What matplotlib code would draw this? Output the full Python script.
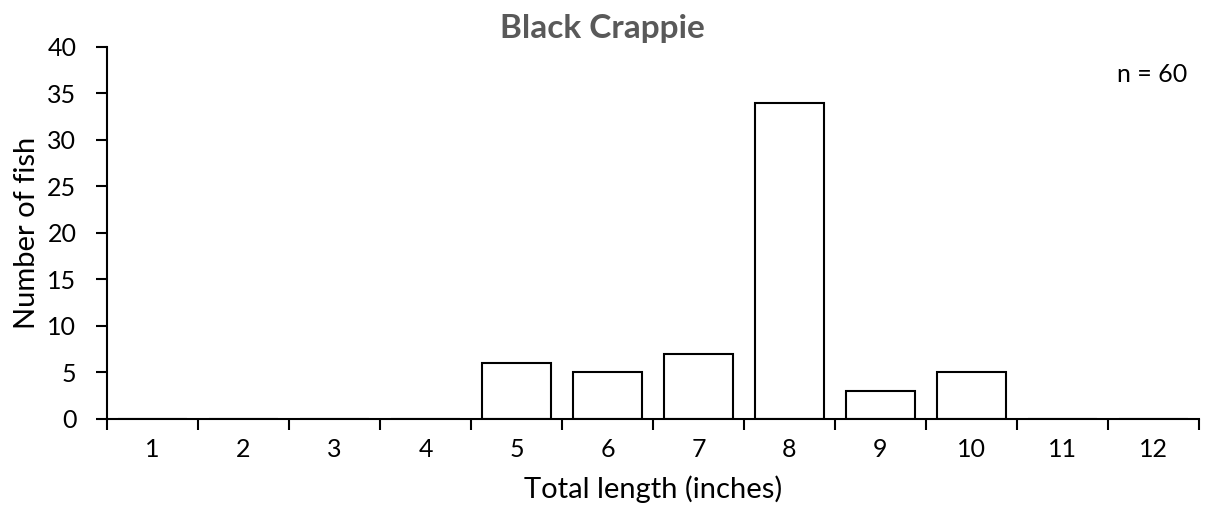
import matplotlib
matplotlib.use("Agg")
import matplotlib.pyplot as plt

# length classes (inches) and fish counts
lengths = [1, 2, 3, 4, 5, 6, 7, 8, 9, 10, 11, 12]
counts = [0, 0, 0, 0, 6, 5, 7, 34, 3, 5, 0, 0]
n_total = 60

plt.rcParams['font.family'] = ['Lato', 'DejaVu Sans']

fig = plt.figure(figsize=(12.05, 5.21), dpi=100)
ax = fig.add_axes([0.0888, 0.1958, 0.9062, 0.7140])

ax.bar(lengths, counts, width=0.76, color='white', edgecolor='black', linewidth=1.5)

ax.set_xlim(0.5, 12.5)
ax.set_ylim(0, 40)
ax.set_yticks(range(0, 41, 5))

# category ticks at the boundaries, labels centred
ax.set_xticks([x + 0.5 for x in [0] + lengths])
ax.set_xticklabels([])
ax.set_xticks(lengths, minor=True)
ax.set_xticklabels([str(x) for x in lengths], minor=True)
ax.tick_params(axis='x', which='minor', length=0, pad=14, labelsize=18)
ax.tick_params(axis='x', which='major', direction='out', length=8, width=1.5)
ax.tick_params(axis='y', direction='out', length=8, width=1.5, labelsize=18, pad=14)

for side in ['top', 'right']:
    ax.spines[side].set_visible(False)
for side in ['left', 'bottom']:
    ax.spines[side].set_linewidth(1.5)

ax.set_xlabel('Total length (inches)', fontsize=21, labelpad=10)
ax.set_ylabel('Number of fish', fontsize=21, labelpad=5)
fig.text(0.4996, 0.927, 'Black Crappie', fontsize=24, fontweight='bold',
         color='#595959', ha='center', va='baseline')
ax.text(0.989, 0.925, f'n = {n_total}', transform=ax.transAxes,
        ha='right', va='center', fontsize=18)

fig.savefig('out.png', dpi=100)
